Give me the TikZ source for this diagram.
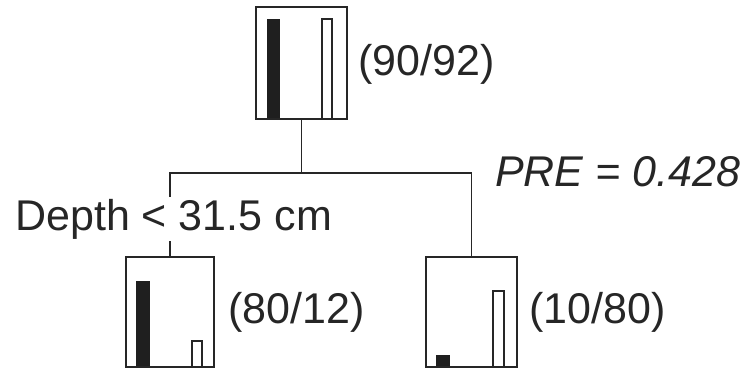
\documentclass[tikz,border=0pt]{standalone}
\usepackage{fontspec}
\setmainfont{Liberation Sans}
\begin{document}
\begin{tikzpicture}[x=1pt,y=-1pt,
  leaf/.style={draw=black!85,line width=1.8pt,minimum width=#1,inner sep=0pt},
  conn/.style={draw=black!85,line width=1.6pt},
  barfull/.style={fill=black!88,draw=black!88,line width=1pt},
  barempty/.style={fill=white,draw=black!85,line width=1.4pt},
  lbl/.style={anchor=base west,inner sep=0pt,font=\fontsize{43}{50}\selectfont,text=black!85}]
\useasboundingbox (0,0) rectangle (744,370);
% boxes
\node[leaf=91pt,minimum height=112pt] (top) at (301.5,63) {};
\node[leaf=88pt,minimum height=110pt] (left) at (170,312) {};
\node[leaf=91pt,minimum height=110pt] (right) at (471.5,312) {};
% connectors
\coordinate (split) at (top.south |- 0,173);
\draw[conn] (top.south) -- (split);
\draw[conn] (left.north) |- (split) -| (right.north);
% bars
\draw[barfull] (267,19) rectangle (279,119);
\draw[barempty] (322,19) rectangle (332,119);
\draw[barfull] (136,281) rectangle (149,367);
\draw[barempty] (192,341) rectangle (202,367);
\draw[barfull] (436,355) rectangle (449,367);
\draw[barempty] (493,291) rectangle (504,367);
% redraw box outlines above bars
\node[leaf=91pt,minimum height=112pt] at (301.5,63) {};
\node[leaf=88pt,minimum height=110pt] at (170,312) {};
\node[leaf=91pt,minimum height=110pt] at (471.5,312) {};
% labels
\node[lbl] (n0) at (358,75) {(90/92)};
\node[lbl] (n1) at (228,323) {(80/12)};
\node[lbl] (n2) at (529,323) {(10/80)};
\node[lbl,font=\fontsize{43}{50}\selectfont\itshape] (pre) at (495,186) {PRE = 0.428};
\node[lbl,fill=white,inner ysep=2pt] (split-lbl) at (15,230) {Depth < 31.5 cm};
\end{tikzpicture}
\end{document}
